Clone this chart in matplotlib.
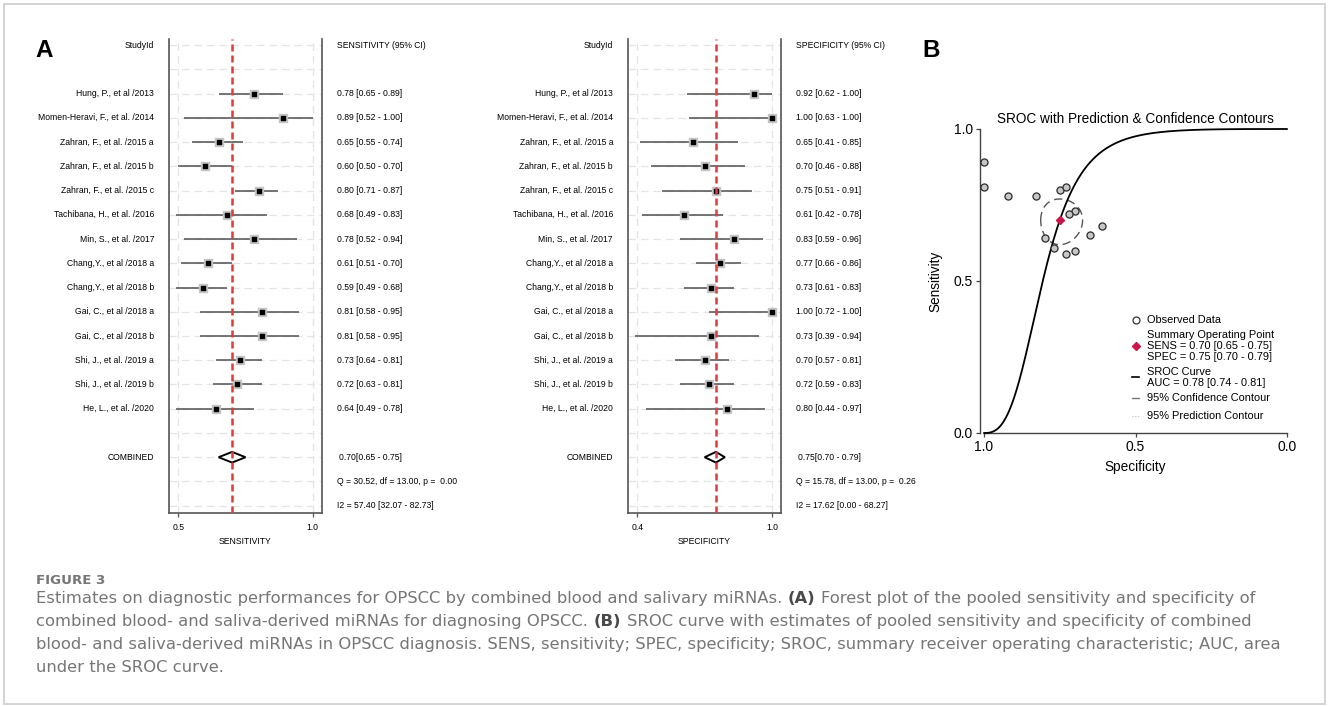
import numpy as np
import matplotlib
matplotlib.use("Agg")
import matplotlib.pyplot as plt
from matplotlib import transforms
from matplotlib.patches import Polygon, Rectangle

# ---- data ----
studies = ["Hung, P., et al /2013", "Momen-Heravi, F., et al. /2014",
           "Zahran, F., et al. /2015 a", "Zahran, F., et al. /2015 b",
           "Zahran, F., et al. /2015 c", "Tachibana, H., et al. /2016",
           "Min, S., et al. /2017", "Chang,Y., et al /2018 a",
           "Chang,Y., et al /2018 b", "Gai, C., et al /2018 a",
           "Gai, C., et al /2018 b", "Shi, J., et al. /2019 a",
           "Shi, J., et al. /2019 b", "He, L., et al. /2020"]

sens = [0.78, 0.89, 0.65, 0.60, 0.80, 0.68, 0.78, 0.61, 0.59, 0.81, 0.81, 0.73, 0.72, 0.64]
sens_lo = [0.65, 0.52, 0.55, 0.50, 0.71, 0.49, 0.52, 0.51, 0.49, 0.58, 0.58, 0.64, 0.63, 0.49]
sens_hi = [0.89, 1.00, 0.74, 0.70, 0.87, 0.83, 0.94, 0.70, 0.68, 0.95, 0.95, 0.81, 0.81, 0.78]

spec = [0.92, 1.00, 0.65, 0.70, 0.75, 0.61, 0.83, 0.77, 0.73, 1.00, 0.73, 0.70, 0.72, 0.80]
spec_lo = [0.62, 0.63, 0.41, 0.46, 0.51, 0.42, 0.59, 0.66, 0.61, 0.72, 0.39, 0.57, 0.59, 0.44]
spec_hi = [1.00, 1.00, 0.85, 0.88, 0.91, 0.78, 0.96, 0.86, 0.83, 1.00, 0.94, 0.81, 0.83, 0.97]

sens_pooled = [0.70, 0.65, 0.75]
spec_pooled = [0.75, 0.70, 0.79]
sens_het = ["Q = 30.52, df = 13.00, p =  0.00", "I2 = 57.40 [32.07 - 82.73]"]
spec_het = ["Q = 15.78, df = 13.00, p =  0.26", "I2 = 17.62 [0.00 - 68.27]"]

# SROC model: slope of logit(sens) on logit(1-spec), through the summary point
sroc_slope = 2.6
# 95% confidence region half-axes on the logit scale (spec, sens)
conf_radius = [0.37, 0.36]

legend_items = ["Observed Data",
                "Summary Operating Point",
                "SENS = 0.70 [0.65 - 0.75]",
                "SPEC = 0.75 [0.70 - 0.79]",
                "SROC Curve",
                "AUC = 0.78 [0.74 - 0.81]",
                "95% Confidence Contour",
                "95% Prediction Contour"]

caption = [
    [("Estimates on diagnostic performances for OPSCC by combined blood and salivary miRNAs.", False),
     ("(A)", True),
     ("Forest plot of the pooled sensitivity and specificity of", False)],
    [("combined blood- and saliva-derived miRNAs for diagnosing OPSCC.", False),
     ("(B)", True),
     ("SROC curve with estimates of pooled sensitivity and specificity of combined", False)],
    [("blood- and saliva-derived miRNAs in OPSCC diagnosis. SENS, sensitivity; SPEC, specificity; "
      "SROC, summary receiver operating characteristic; AUC, area", False)],
    [("under the SROC curve.", False)],
]

W, H = 1328, 706
plt.rcParams['font.family'] = ['Liberation Sans', 'DejaVu Sans']
fig = plt.figure(figsize=(W / 100, H / 100), dpi=100)


def box(x0, y0, x1, y1):
    return [x0 / W, 1 - y1 / H, (x1 - x0) / W, (y1 - y0) / H]


def logit(p):
    return np.log(p / (1 - p))


def expit(z):
    return 1 / (1 + np.exp(-z))


FS = 6.2


def forest(x0, x1, xlim, ticks, est, lo, hi, pooled, head, xlabel, het, lab_x, col_x):
    ax = fig.add_axes(box(x0, 39, x1, 513))
    ax.set_xlim(*xlim)
    ax.set_ylim(19.3, -0.25)
    tr = transforms.blended_transform_factory(fig.transFigure, ax.transData)

    for r in range(20):
        ax.axhline(r, color='#e4e4e4', lw=0.9, ls=(0, (6, 4)), zorder=0)
    for t in ticks:
        ax.axvline(t, color='#e4e4e4', lw=0.9, ls=(0, (6, 4)), zorder=0)

    rows = np.arange(len(est)) + 2
    ax.hlines(rows, lo, hi, color='#505050', lw=1.1, zorder=2)
    ax.scatter(est, rows, marker='s', s=40, color='#c4c4c4', zorder=3, clip_on=False)
    ax.scatter(est, rows, marker='s', s=12, color='black', zorder=4, clip_on=False)

    p, plo, phi = pooled
    ax.add_patch(Polygon([[plo, 17], [p, 16.78], [phi, 17], [p, 17.22]], closed=True,
                         fc='white', ec='black', lw=1.4, zorder=3))
    ax.axvline(p, color='#e03b3b', lw=1.8, ls=(0, (2.8, 1.6)), zorder=5)

    ax.spines['top'].set_visible(False)
    for s in ['left', 'right', 'bottom']:
        ax.spines[s].set_color('#555555')
        ax.spines[s].set_linewidth(1.2)
    ax.set_yticks([])
    ax.set_xticks(ticks, [f"{t:.1f}" for t in ticks])
    ax.tick_params(axis='x', length=3, width=0.9, color='#555555', labelsize=FS, pad=4.5)

    ax.text(lab_x / W, 0, "StudyId", transform=tr, ha='right', va='center', fontsize=FS)
    ax.text(col_x / W, 0, head, transform=tr, ha='left', va='center', fontsize=FS)
    for i, name in enumerate(studies):
        ax.text(lab_x / W, rows[i], name, transform=tr, ha='right', va='center', fontsize=FS)
        ax.text(col_x / W, rows[i], f"{est[i]:.2f} [{lo[i]:.2f} - {hi[i]:.2f}]",
                transform=tr, ha='left', va='center', fontsize=FS)
    ax.text(lab_x / W, 17, "COMBINED", transform=tr, ha='right', va='center', fontsize=FS)
    ax.text((col_x + 2) / W, 17, f"{p:.2f}[{plo:.2f} - {phi:.2f}]", transform=tr,
            ha='left', va='center', fontsize=FS)
    ax.text(col_x / W, 18, het[0], transform=tr, ha='left', va='center', fontsize=FS)
    ax.text(col_x / W, 19, het[1], transform=tr, ha='left', va='center', fontsize=FS)
    fig.text((x0 + x1) / 2 / W, 1 - 542 / H, xlabel, ha='center', va='center', fontsize=FS)
    return ax


forest(168.5, 322, (0.4635, 1.0346), [0.5, 1.0], sens, sens_lo, sens_hi, sens_pooled,
       "SENSITIVITY (95% CI)", "SENSITIVITY", sens_het, 154, 337)
forest(627.7, 781.3, (0.3572, 1.0414), [0.4, 1.0], spec, spec_lo, spec_hi, spec_pooled,
       "SPECIFICITY (95% CI)", "SPECIFICITY", spec_het, 613, 796)

# ---- panel B: SROC ----
axb = fig.add_axes(box(984, 129, 1287, 433))
axb.set_xlim(1, 0)
axb.set_ylim(0, 1)
axb.patch.set_visible(False)
for s in ['top', 'right']:
    axb.spines[s].set_visible(False)
for s in ['left', 'bottom']:
    axb.spines[s].set_color('#444444')
    axb.spines[s].set_linewidth(1.0)
axb.spines['left'].set_position(('outward', 3))
axb.set_xticks([1.0, 0.5, 0.0], ["1.0", "0.5", "0.0"])
axb.set_yticks([0.0, 0.5, 1.0], ["0.0", "0.5", "1.0"])
axb.tick_params(length=3, width=0.9, color='#444444', labelsize=10, pad=2)
axb.set_title("SROC with Prediction & Confidence Contours", fontsize=9.8, pad=4)

fpr = np.linspace(0.0005, 0.9995, 600)
a = logit(sens_pooled[0]) - sroc_slope * logit(1 - spec_pooled[0])
axb.plot(1 - fpr, expit(a + sroc_slope * logit(fpr)), color='black', lw=1.3, clip_on=False, zorder=3)

t = np.linspace(0, 2 * np.pi, 300)
cx = expit(logit(spec_pooled[0]) + conf_radius[0] * np.cos(t))
cy = expit(logit(sens_pooled[0]) + conf_radius[1] * np.sin(t))
axb.plot(cx, cy, color='#555555', lw=1.0, ls=(0, (6, 3.5)), zorder=2)

axb.scatter(spec, sens, s=26, marker='o', facecolor='#c6c6c6', edgecolor='#2a2a2a',
            linewidth=0.9, zorder=4, clip_on=False)
axb.plot(spec_pooled[0], sens_pooled[0], marker='D', ms=4.5, color='#c8174a', zorder=5)

# ---- overlay in pixel coordinates ----
ov = fig.add_axes([0, 0, 1, 1])
ov.set_xlim(0, W)
ov.set_ylim(H, 0)
ov.axis('off')

ov.add_patch(Rectangle((4, 4), 1321, 700, fill=False, ec='#d4d4d4', lw=1.4))
ov.text(35, 57, "A", fontsize=17.5, fontweight='bold', va='baseline')
ov.text(922, 57, "B", fontsize=17.5, fontweight='bold', va='baseline')
ov.text(1135, 467, "Specificity", fontsize=9.8, ha='center', va='center')
ov.text(935, 281, "Sensitivity", fontsize=9.8, ha='center', va='center', rotation=90)

# legend
LX, SX = 1147, 1135.7
for txt, y in zip(legend_items, [320, 335, 346, 357, 372, 383, 398, 416]):
    ov.text(LX, y, txt, fontsize=7.9, ha='left', va='center')
ov.plot(SX, 320, marker='o', ms=5, mfc='white', mec='#333333', mew=0.9)
ov.plot(SX, 346, marker='D', ms=4.2, color='#c8174a')
ov.plot([SX - 3.5, SX + 3.5], [377, 377], color='black', lw=1.2)
ov.plot([SX - 3.5, SX + 3.5], [398, 398], color='#777777', lw=1.0)
ov.plot([SX - 4, SX + 4], [416, 416], color='#bbbbbb', lw=0.8, ls=(0, (1, 1.5)))

# caption
renderer = fig.canvas.get_renderer()
CAP_COL = '#767676'
cap_font = ['DejaVu Sans']
ov.text(36, 584, "FIGURE 3", fontsize=9.6, fontweight='bold', color='#767676',
        family=cap_font, va='baseline')

# fit font size so the first caption line spans the same width as in the original
probe = ov.text(0, 0, " ".join(s for s, _ in caption[0]), fontsize=10, family=cap_font)
cap_fs = 10 * 1217 / probe.get_window_extent(renderer).width
probe.remove()
space = cap_fs * 100 / 72 * 0.34
for k, parts in enumerate(caption):
    x = 36
    y = 603 + 23 * k
    for s, bold in parts:
        tt = ov.text(x, y, s, fontsize=cap_fs, color='#4a4a4a' if bold else CAP_COL,
                     fontweight='bold' if bold else 'normal', family=cap_font, va='baseline')
        x = tt.get_window_extent(renderer).x1 + space

fig.savefig("out.png", dpi=100, facecolor='white')
